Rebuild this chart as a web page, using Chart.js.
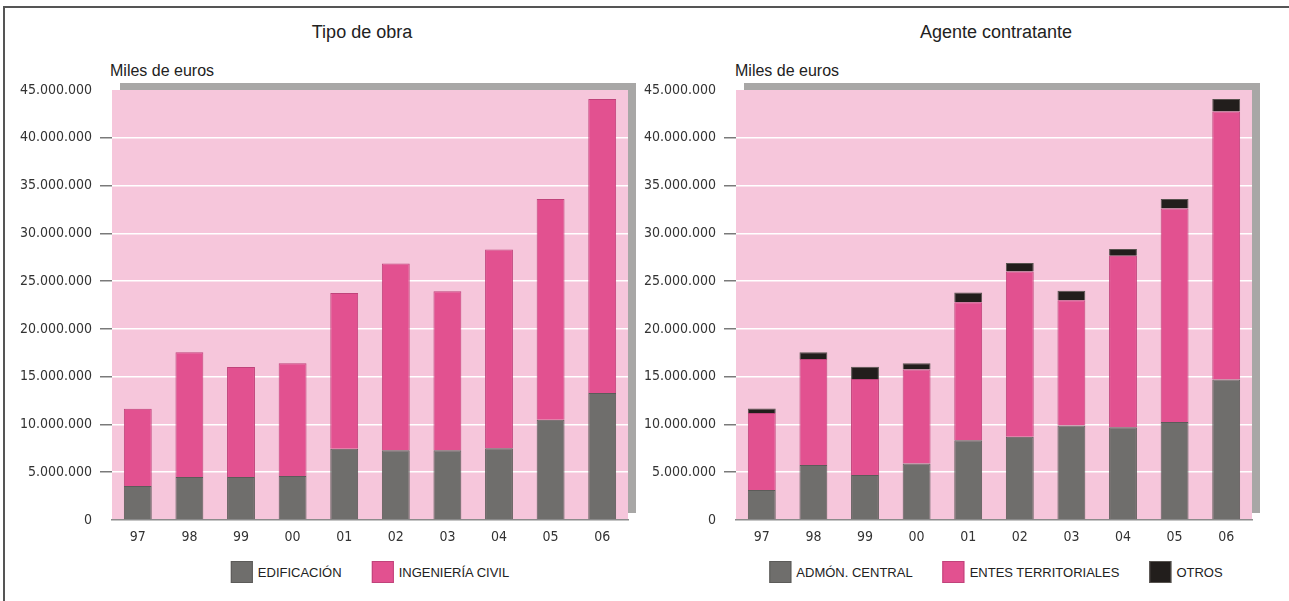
<!DOCTYPE html>
<html lang="es">
<head>
<meta charset="utf-8">
<title>Tipo de obra / Agente contratante</title>
<script src="https://cdn.jsdelivr.net/npm/chart.js@4.4.1/dist/chart.umd.min.js"></script>
<style>
    html, body { margin: 0; padding: 0; background: #fff; }
    #page {
        position: relative;
        width: 1289px;
        height: 601px;
        overflow: hidden;
        font-family: "Liberation Sans", Arial, sans-serif;
        color: #222;
    }
    .frame {
        position: absolute;
        left: 3px;
        top: 6px;
        width: 1300px;
        height: 600px;
        border-top: 2px solid #555;
        border-left: 2px solid #555;
        box-sizing: border-box;
    }
    .chart-box { position: absolute; top: 0; height: 560px; }
    .chart-title {
        position: absolute;
        top: 22px;
        font-size: 18px;
        line-height: 20px;
        white-space: nowrap;
        transform: translateX(-50%);
    }
    .unit {
        position: absolute;
        top: 62px;
        font-size: 16px;
        line-height: 18px;
        white-space: nowrap;
    }
    .chart-html-legend {
        position: absolute;
        top: 561px;
        transform: translateX(-50%);
        display: flex;
        align-items: center;
        white-space: nowrap;
    }
    .chart-legend-item { display: flex; align-items: center; margin-right: 30px; }
    .chart-legend-item:last-child { margin-right: 0; }
    .chart-legend-color {
        width: 20px;
        height: 20px;
        margin-right: 5px;
        border: 1px solid;
    }
    .chart-legend-label { font-size: 13px; color: #222; }
</style>
</head>
<body>
<div id="page">
    <div class="frame"></div>

    <div class="chart-title" style="left:362px">Tipo de obra</div>
    <div class="unit" style="left:110px">Miles de euros</div>
    <div class="chart-box" style="left:0; width:640px"><canvas id="chartObra"></canvas></div>
    <div class="chart-html-legend" id="legendObra" style="left:370px"></div>

    <div class="chart-title" style="left:996px">Agente contratante</div>
    <div class="unit" style="left:735px">Miles de euros</div>
    <div class="chart-box" style="left:640px; width:649px"><canvas id="chartAgente"></canvas></div>
    <div class="chart-html-legend" id="legendAgente" style="left:996px"></div>
</div>

<script>
// Valores en miles de euros
const years = ['97', '98', '99', '00', '01', '02', '03', '04', '05', '06'];

const edificacion = [3550000, 4500000, 4500000, 4600000, 7450000, 7300000, 7300000, 7500000, 10500000, 13300000];
const ingenieriaCivil = [8100000, 13050000, 11500000, 11800000, 16300000, 19550000, 16650000, 20800000, 23100000, 30750000];

const admonCentral = [3150000, 5750000, 4700000, 5900000, 8350000, 8700000, 9900000, 9700000, 10250000, 14700000];
const entesTerritoriales = [8050000, 11100000, 10050000, 9850000, 14450000, 17300000, 13100000, 17950000, 22350000, 28050000];
const otros = [480000, 700000, 1300000, 650000, 1000000, 900000, 1000000, 700000, 1000000, 1300000];

const yTicks = [0, 5000000, 10000000, 15000000, 20000000, 25000000, 30000000, 35000000, 40000000, 45000000];

const COLORS = {
    gris: '#6f6e6c', grisBorde: '#5c5b59',
    rosa: '#e25190', rosaBorde: '#c0437b',
    negro: '#221e1c', negroBorde: '#57534f',
    fondo: '#f6c6db', sombra: '#a8a7a6'
};

const tickFont = { family: '"DejaVu Sans Condensed", "Liberation Sans", sans-serif', size: 14 };

// puntos de miles: 45000000 -> 45.000.000
function fmt(n) {
    return String(n).replace(/\B(?=(\d{3})+(?!\d))/g, '.');
}

// Fondo rosa del área de trazado con sombra gris desplazada
const plotBackground = {
    id: 'plotBackground',
    beforeDraw(chart) {
        const { ctx, chartArea: a } = chart;
        ctx.save();
        ctx.fillStyle = COLORS.sombra;
        ctx.fillRect(a.left + 8, a.top - 7, a.right - a.left, a.bottom - a.top);
        ctx.fillStyle = COLORS.fondo;
        ctx.fillRect(a.left, a.top, a.right - a.left, a.bottom - a.top);
        ctx.restore();
    }
};

function makeChart(canvasId, datasets, yWidth, padRight) {
    return new Chart(document.getElementById(canvasId), {
        type: 'bar',
        data: { labels: years, datasets: datasets },
        plugins: [plotBackground],
        options: {
            responsive: true,
            maintainAspectRatio: false,
            animation: false,
            layout: { padding: { top: 90, right: padRight, bottom: 10, left: 0 } },
            plugins: {
                legend: { display: false },
                tooltip: { enabled: false }
            },
            datasets: {
                bar: { barPercentage: 0.54, categoryPercentage: 1, borderWidth: 1 }
            },
            scales: {
                x: {
                    stacked: true,
                    grid: { display: false, drawTicks: false },
                    border: { display: true, color: '#8c8c8c', width: 1.5 },
                    ticks: { color: '#333', font: tickFont, padding: 9 },
                    afterFit(scale) { scale.height = 30; }
                },
                y: {
                    stacked: true,
                    min: 0,
                    max: 45000000,
                    afterBuildTicks(scale) { scale.ticks = yTicks.map(v => ({ value: v })); },
                    afterFit(scale) { scale.width = yWidth; },
                    border: { display: false },
                    grid: {
                        lineWidth: 1.5,
                        tickLength: 12,
                        tickWidth: 1.5,
                        color: ctx => (ctx.tick && (ctx.tick.value === 0 || ctx.tick.value === 45000000)) ? 'rgba(0,0,0,0)' : '#ffffff',
                        tickColor: ctx => (ctx.tick && (ctx.tick.value === 0 || ctx.tick.value === 45000000)) ? 'rgba(0,0,0,0)' : '#7a7a7a'
                    },
                    ticks: {
                        color: '#333',
                        font: tickFont,
                        padding: 8,
                        callback: v => fmt(v)
                    }
                }
            }
        }
    });
}

function renderHtmlLegend(containerId, items) {
    let html = '';
    items.forEach(it => {
        html += `
            <span class="chart-legend-item">
                <span class="chart-legend-color" style="background:${it.color}; border-color:${it.border};"></span>
                <span class="chart-legend-label">${it.label}</span>
            </span>`;
    });
    document.getElementById(containerId).innerHTML = html;
}

const obraSets = [
    { label: 'EDIFICACIÓN', data: edificacion, backgroundColor: COLORS.gris, borderColor: COLORS.grisBorde },
    { label: 'INGENIERÍA CIVIL', data: ingenieriaCivil, backgroundColor: COLORS.rosa, borderColor: COLORS.rosaBorde }
];

const agenteSets = [
    { label: 'ADMÓN. CENTRAL', data: admonCentral, backgroundColor: COLORS.gris, borderColor: COLORS.grisBorde },
    { label: 'ENTES TERRITORIALES', data: entesTerritoriales, backgroundColor: COLORS.rosa, borderColor: COLORS.rosaBorde },
    { label: 'OTROS', data: otros, backgroundColor: COLORS.negro, borderColor: COLORS.negroBorde }
];

makeChart('chartObra', obraSets, 112, 12);
makeChart('chartAgente', agenteSets, 96, 37);

renderHtmlLegend('legendObra', obraSets.map(d => ({ label: d.label, color: d.backgroundColor, border: d.borderColor })));
renderHtmlLegend('legendAgente', agenteSets.map(d => ({ label: d.label, color: d.backgroundColor, border: d.borderColor })));
</script>
</body>
</html>
